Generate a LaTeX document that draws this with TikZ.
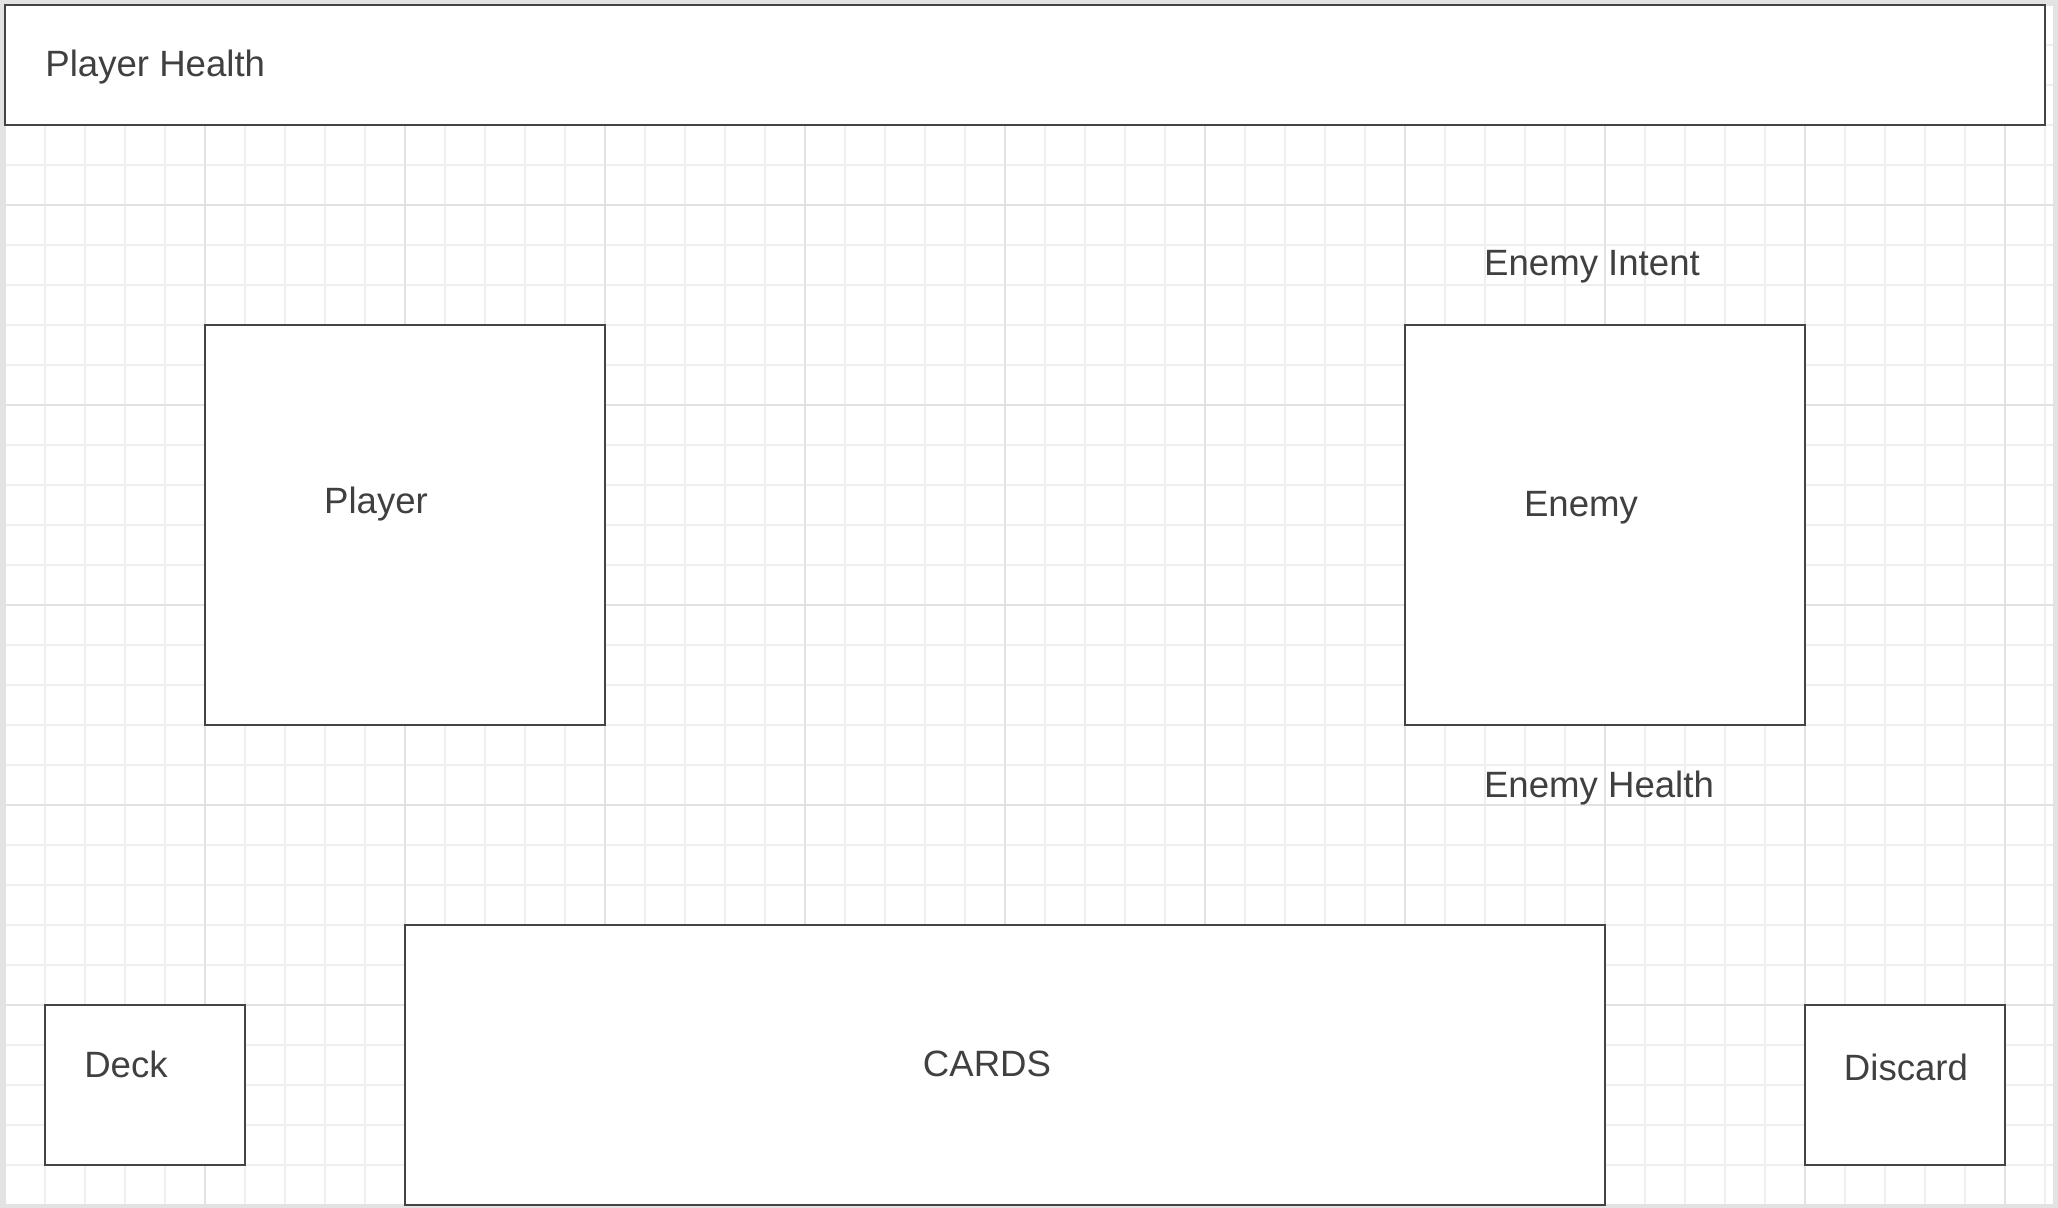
\documentclass[tikz,border=0pt]{standalone}
\usepackage{fontspec}
\setmainfont{Liberation Sans}
\usetikzlibrary{positioning}

\definecolor{edgegray}{HTML}{444444}
\definecolor{textgray}{HTML}{404040}
\definecolor{minorgrid}{HTML}{EFEFEF}
\definecolor{majorgrid}{HTML}{E2E2E2}
\definecolor{framegray}{HTML}{E3E3E3}

\begin{document}
\begin{tikzpicture}[
    x=0.5pt, y=-0.5pt,
    box/.style={draw=edgegray, line width=1pt, fill=white, rectangle, inner sep=0pt, outer sep=0pt, anchor=north west},
    label/.style={font=\fontsize{18.3}{22}\selectfont, text=textgray, inner sep=0pt, anchor=base}
]

% Canvas and margins
\useasboundingbox (0,0) rectangle (2058,1208);
\fill[framegray] (0,0) rectangle (2058,1208);
\fill[white] (4,4) rectangle (2053,1204);

% Grid
\foreach \gx in {5,45,...,2045} \draw[minorgrid, line width=1pt] (\gx,4) -- (\gx,1204);
\foreach \gy in {5,45,...,1205} \draw[minorgrid, line width=1pt] (4,\gy) -- (2053,\gy);
\foreach \gx in {5,205,...,2045} \draw[majorgrid, line width=1pt] (\gx,4) -- (\gx,1204);
\foreach \gy in {5,205,...,1205} \draw[majorgrid, line width=1pt] (4,\gy) -- (2053,\gy);

% Top bar
\node[box, minimum width=1020pt, minimum height=60pt] (health) at (5,5) {};
\node[label, anchor=base west] (healthtxt) at (45,77) {Player Health};

% Fighters
\node[box, minimum width=200pt, minimum height=200pt] (player) at (205,325) {};
\node[label] (playertxt) at (376,514) {Player};
\node[box, minimum width=200pt, minimum height=200pt] (enemy) at (1405,325) {};
\node[label] (enemytxt) at (1581,517) {Enemy};

% Enemy info
\node[label] (intent) at (1592,276) {Enemy Intent};
\node[label] (ehealth) at (1599,797) {Enemy Health};

% Card area
\node[box, minimum width=600pt, minimum height=140pt] (cards) at (405,925) {};
\node[label] (cardstxt) at (987,1076) {CARDS};
\node[box, minimum width=100pt, minimum height=80pt] (deck) at (45,1005) {};
\node[label] (decktxt) at (126,1077) {Deck};
\node[box, minimum width=100pt, minimum height=80pt] (discard) at (1805,1005) {};
\node[label] (discardtxt) at (1906,1080) {Discard};

\end{tikzpicture}
\end{document}
